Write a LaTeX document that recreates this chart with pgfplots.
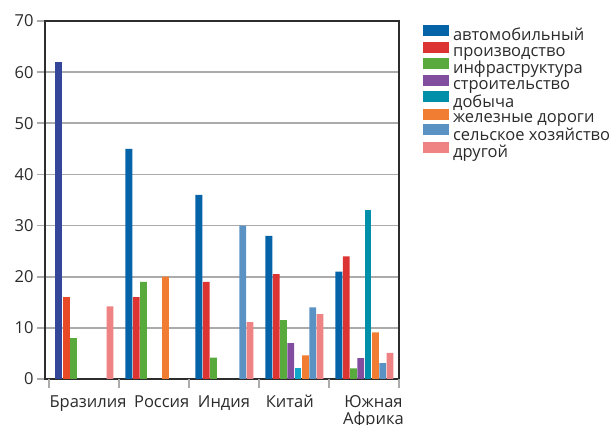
\documentclass[border=0pt]{standalone}
\usepackage{pgfplots}
\pgfplotsset{compat=1.18}
\usepackage{fontspec}
\setmainfont{Open Sans}

\definecolor{txt}{HTML}{2B2B2B}
\definecolor{gridgray}{HTML}{ABABAB}
\definecolor{axisdark}{HTML}{2D2D2D}
\definecolor{cAuto}{HTML}{0563A8}
\definecolor{cAutoBr}{HTML}{34469A}
\definecolor{cProd}{HTML}{DC3333}
\definecolor{cProdBr}{HTML}{E84A28}
\definecolor{cInfra}{HTML}{57AA3B}
\definecolor{cConstr}{HTML}{824D9E}
\definecolor{cMine}{HTML}{008FA8}
\definecolor{cMineCn}{HTML}{12A6C8}
\definecolor{cRail}{HTML}{F07D32}
\definecolor{cAgri}{HTML}{5A92C4}
\definecolor{cOther}{HTML}{EF8282}

\newcommand\chartfont{\fontsize{16.5bp}{17bp}\selectfont}

\begin{document}
\begin{tikzpicture}
\useasboundingbox (0,0) rectangle (612bp,425bp);
\begin{axis}[
  at={(45bp,46bp)}, anchor=south west,
  scale only axis, width=354bp, height=358bp,
  xmin=-0.557, xmax=4.5, ymin=0, ymax=70,
  ytick={0,10,...,70},
  % label anchors (tick marks at these positions are hidden)
  xtick={0.057,1.11,2.0,2.94,4.135},
  xticklabels={Бразилия,Россия,Индия,Китай,{Южная\\Африка}},
  xticklabel style={align=center, yshift=-5bp, text=txt},
  yticklabel style={text=txt},
  tick label style={font=\chartfont},
  /pgf/number format/assume math mode=true,
  tick align=outside,
  xtick pos=bottom, ytick pos=left,
  x tick style={draw=none},
  y tick style={gridgray, line width=1.6bp},
  major tick length=8bp,
  extra x ticks={-0.5,0.5,1.5,2.5,3.5,4.5},
  extra x tick labels={},
  extra x tick style={major tick length=9bp,
    x tick style={draw=gridgray, line width=1.8bp}},
  ymajorgrids,
  grid style={gridgray, line width=1.6bp},
  axis line style={axisdark, line width=1.8bp},
  every axis plot/.append style={ybar, bar width=0.097, draw=none},
  legend image code/.code={\fill[#1] (0bp,-0.5bp) rectangle (26bp,10.5bp);},
  legend style={at={(1.068,0.99)}, anchor=north west, draw=none, fill=none,
    inner sep=0pt, outer sep=0pt, font=\chartfont, text=txt,
    column sep=2bp, row sep=-2bp},
  legend cell align=left,
]
% Brazil's two leading bars carry their own shades
\addplot[fill=cAutoBr, bar shift=-0.359, forget plot] coordinates {(0,62)};
\addplot[fill=cProdBr, bar shift=-0.254, forget plot] coordinates {(0,16)};
% China's mining bar is a lighter cyan
\addplot[fill=cMineCn, bar shift=0.058, forget plot] coordinates {(3,2.1)};

\addplot[fill=cAuto, bar shift=-0.359] coordinates {(1,45) (2,36) (3,28) (4,21)};
\addplot[fill=cProd, bar shift=-0.254] coordinates {(1,16) (2,19) (3,20.5) (4,24)};
\addplot[fill=cInfra, bar shift=-0.150] coordinates {(0,8) (1,19) (2,4.2) (3,11.5) (4,2.1)};
\addplot[fill=cConstr, bar shift=-0.046] coordinates {(3,7) (4,4.1)};
\addplot[fill=cMine, bar shift=0.058] coordinates {(4,33)};
\addplot[fill=cRail, bar shift=0.163] coordinates {(1,20) (3,4.6) (4,9.1)};
\addplot[fill=cAgri, bar shift=0.267] coordinates {(2,30) (3,14) (4,3.1)};
\addplot[fill=cOther, bar shift=0.372] coordinates {(0,14.2) (2,11.1) (3,12.7) (4,5.1)};
\legend{автомобильный,производство,инфраструктура,строительство,добыча,железные дороги,сельское хозяйство,другой}
\end{axis}
\end{tikzpicture}
\end{document}
